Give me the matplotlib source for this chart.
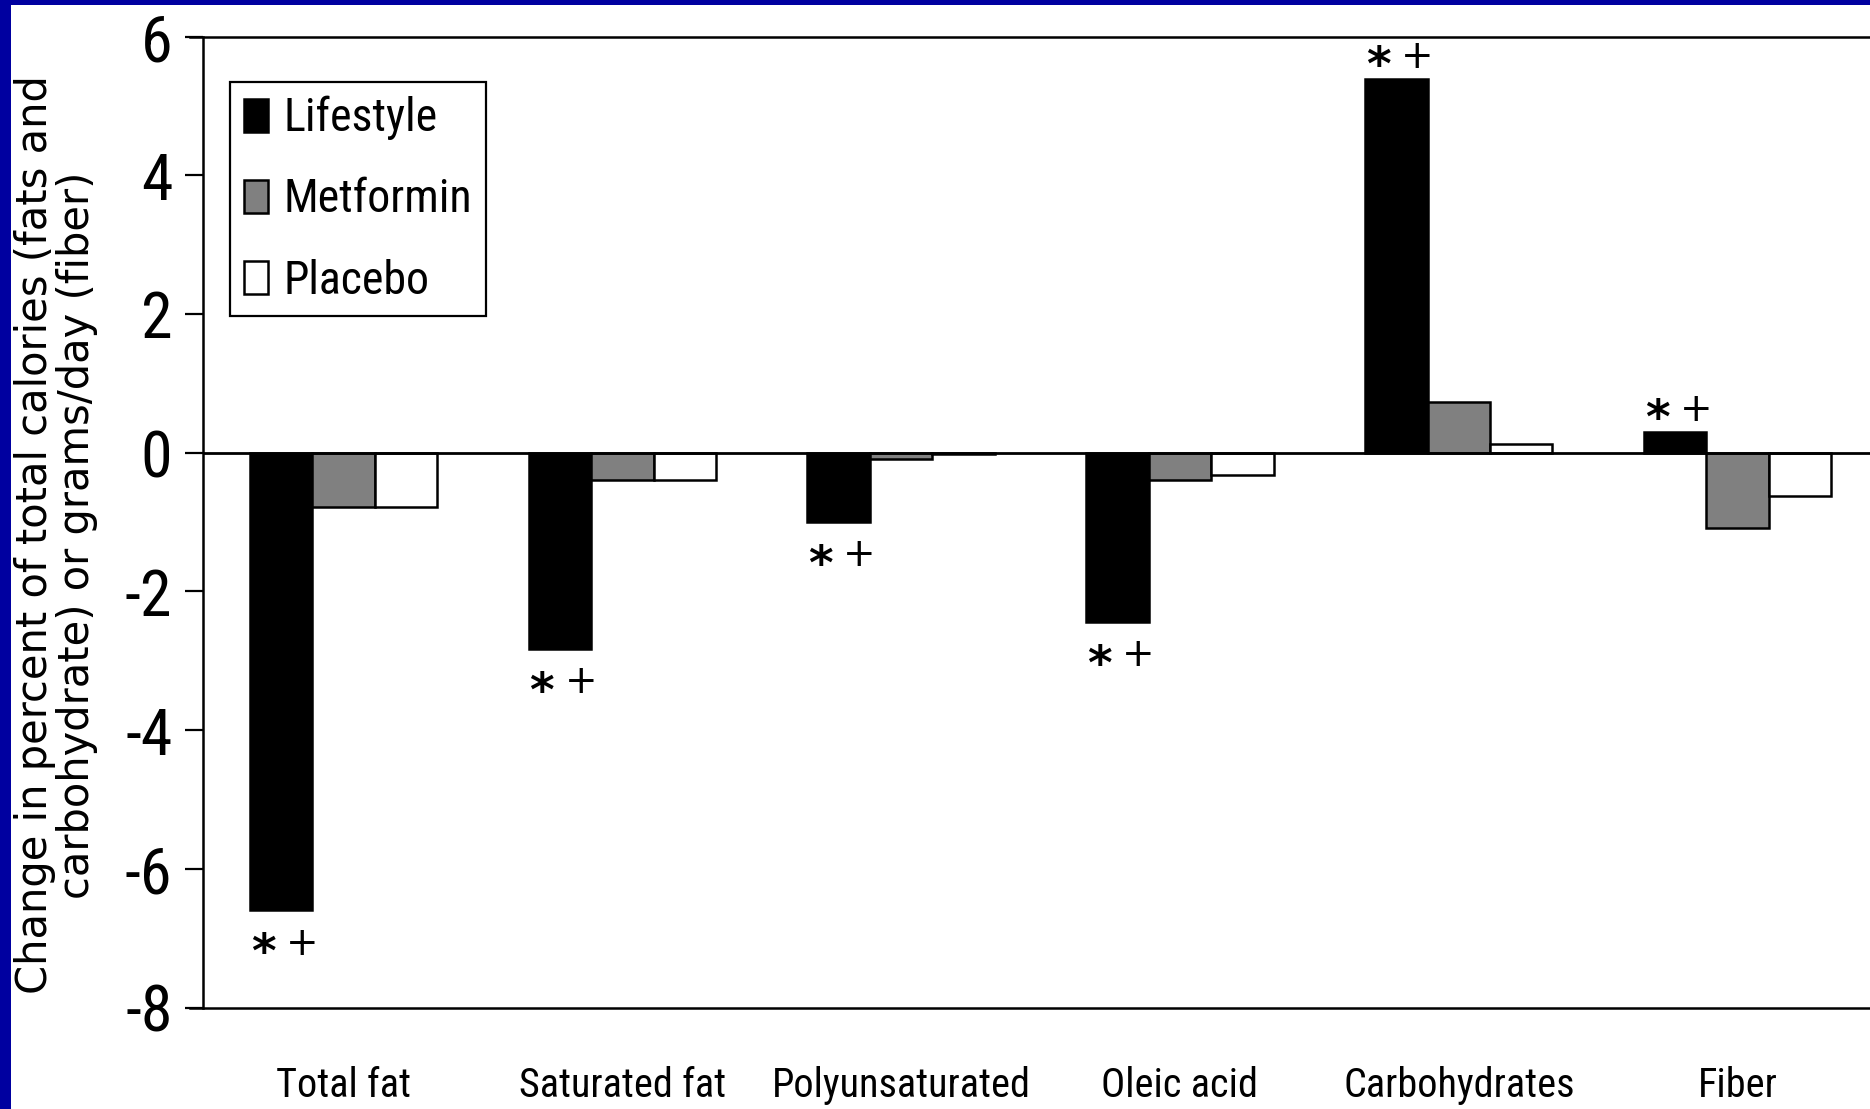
import matplotlib
matplotlib.use("Agg")
import matplotlib.pyplot as plt
from matplotlib import font_manager
import numpy as np
from matplotlib.patches import Rectangle

# ---------------- data ----------------
categories = ["Total fat", "Saturated fat", "Polyunsaturated", "Oleic acid",
              "Carbohydrates", "Fiber"]
series_names = ["Lifestyle", "Metformin", "Placebo"]
lifestyle = [-6.60, -2.83, -1.00, -2.44, 5.39, 0.30]
metformin = [-0.78, -0.39, -0.09, -0.40, 0.73, -1.08]
placebo = [-0.78, -0.39, -0.02, -0.32, 0.12, -0.62]
significance = ["* +", "* +", "* +", "* +", "* +", "* +"]   # markers on Lifestyle bars
y_ticks = [-8, -6, -4, -2, 0, 2, 4, 6]
y_tick_labels = ["-8", "-6", "-4", "-2", "0", "2", "4", "6"]
y_label = ("Change in percent of total calories (fats and\n"
           "carbohydrate) or grams/day (fiber)")

colors = ["#000000", "#808080", "#ffffff"]

# look for an installed condensed / narrow sans family
names = {f.name for f in font_manager.fontManager.ttflist}
narrow_family = None
for cand in ["Liberation Sans Narrow", "Arial Narrow", "Roboto Condensed",
             "Noto Sans Condensed", "Open Sans Condensed", "DejaVu Sans Condensed"]:
    if cand in names:
        narrow_family = cand
        break
narrow_stretch = "normal"
if narrow_family is None:
    for f in font_manager.fontManager.ttflist:
        st = f.stretch if isinstance(f.stretch, str) else str(f.stretch)
        if ("condensed" in st or (st.isdigit() and int(st) < 500)) and "Mono" not in f.name \
                and "Serif" not in f.name and "CJK" not in f.name:
            narrow_family = f.name
            narrow_stretch = f.stretch
            break
if narrow_family is None:
    narrow_family = "Liberation Sans"
    scale = 0.82
else:
    scale = 1.0
narrow = [narrow_family, "Liberation Sans", "DejaVu Sans"]

# ---------------- figure ----------------
W, H = 1870, 1109
fig = plt.figure(figsize=(W / 100, H / 100), dpi=100)
fig.patch.set_facecolor("white")

fig.patches.append(Rectangle((0, 0), 11 / W, 1, transform=fig.transFigure,
                             facecolor="#0000a0", edgecolor="none", zorder=0))
fig.patches.append(Rectangle((0, 1 - 5 / H), 1, 5 / H, transform=fig.transFigure,
                             facecolor="#0000a0", edgecolor="none", zorder=0))

left, right = 203 / W, 1.0
bottom, top = 1 - 1007.5 / H, 1 - 36.5 / H
ax = fig.add_axes([left, bottom, right - left, top - bottom])
ax.set_facecolor("none")

x = np.arange(len(categories))
width = 0.224
series = [lifestyle, metformin, placebo]
for i, (vals, name, col) in enumerate(zip(series, series_names, colors)):
    ax.bar(x + (i - 1) * width, vals, width, color=col, edgecolor="black",
           linewidth=1.8, label=name, zorder=3)

ax.axhline(0, color="black", linewidth=2.0, zorder=4)

ax.set_xlim(-0.504, 5.475)
ax.set_ylim(-8, 6)
ax.set_yticks(y_ticks)
ax.set_yticklabels(y_tick_labels, fontsize=46 * scale, family=narrow,
                   stretch=narrow_stretch)
ax.set_xticks(x)
ax.set_xticklabels(categories, fontsize=29 * scale, family=narrow,
                   stretch=narrow_stretch)

ax.tick_params(axis="y", direction="out", length=13, width=1.6, pad=9)
ax.tick_params(axis="x", length=0, pad=42)

for s in ["left", "top", "bottom"]:
    ax.spines[s].set_linewidth(1.8)
ax.spines["right"].set_visible(False)
ax.spines["top"].set_bounds(-0.504 - 13 / 278.8, 5.475)
ax.spines["bottom"].set_bounds(-0.504 - 13 / 278.8, 5.475)
ax.spines["top"].set_clip_on(False)
ax.spines["bottom"].set_clip_on(False)

# significance markers on Lifestyle bars
for xi, v, sig in zip(x, lifestyle, significance):
    bx = xi - width
    star, plus = sig.split()
    dy = -24 if v < 0 else 16
    ax.annotate(star, xy=(bx, v), xytext=(-13, dy - 8), textcoords="offset points",
                ha="center", va="center", fontsize=34, fontweight="bold",
                family="DejaVu Sans", annotation_clip=False, zorder=5)
    ax.annotate(plus, xy=(bx, v), xytext=(15, dy), textcoords="offset points",
                ha="center", va="center", fontsize=28, family="DejaVu Sans",
                annotation_clip=False, zorder=5)

# legend
fs_leg = 33 * scale
px = fs_leg * 100 / 72
leg = ax.legend(loc="upper left", bbox_to_anchor=(0.0162, 0.953),
                prop={"family": narrow, "size": fs_leg, "stretch": narrow_stretch},
                frameon=True, fancybox=False, framealpha=1, edgecolor="black",
                handlelength=24 / px, handleheight=34 / px,
                handletextpad=15.5 / px,
                borderpad=0.3, labelspacing=0.81, borderaxespad=0)
leg.get_frame().set_linewidth(1.6)

# y-axis label (two lines)
fig.text(56 / W, 1 - 535 / H, y_label, rotation=90, ha="center", va="center",
         multialignment="center", fontsize=30, family="DejaVu Sans",
         linespacing=1.0)

fig.savefig("out.png", dpi=100, facecolor=fig.get_facecolor())
